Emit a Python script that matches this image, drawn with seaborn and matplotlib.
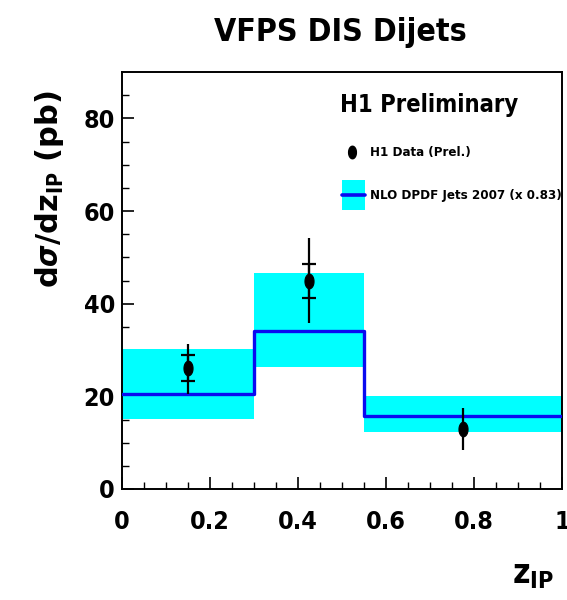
import numpy as np
import pandas as pd
import matplotlib
matplotlib.use("Agg")
import matplotlib.pyplot as plt
import seaborn as sns
from matplotlib.path import Path

# theory (NLO DPDF Jets 2007 x 0.83), histogram bins
bin_edges = [0.0, 0.3, 0.55, 1.0]
nlo_val = [20.4, 34.1, 15.8]
nlo_lo = [15.1, 26.4, 12.4]
nlo_hi = [30.3, 46.7, 20.1]

# H1 data points
zp = [0.15, 0.425, 0.775]
xs = [26.2, 44.9, 12.9]
stat_lo = [23.3, 41.3]
stat_hi = [28.9, 48.5]
tot_lo = [20.6, 35.9, 8.4]
tot_hi = [31.4, 54.1, 17.5]

sns.set_style("ticks")
plt.rcParams['font.family'] = ['DejaVu Sans']
plt.rcParams['font.stretch'] = 'condensed'
plt.rcParams['font.weight'] = 'bold'
plt.rcParams['mathtext.fontset'] = 'dejavusans'
for k in ['text.color', 'axes.labelcolor', 'xtick.color', 'ytick.color', 'axes.edgecolor']:
    plt.rcParams[k] = 'black'

fig = plt.figure(figsize=(5.67, 6.0), dpi=100)
ax = fig.add_axes([0.2152, 0.185, 0.776, 0.695])

cyan = "#00ffff"
blue = "#0a0af0"

# bands
edges = np.array(bin_edges)
ax.fill_between(edges, nlo_lo + [nlo_lo[-1]], nlo_hi + [nlo_hi[-1]],
                step="post", color=cyan, lw=0, zorder=1)

# step line
step_df = pd.DataFrame({"z": bin_edges, "v": nlo_val + [nlo_val[-1]]})
sns.lineplot(data=step_df, x="z", y="v", drawstyle="steps-post", color=blue,
             lw=2.4, estimator=None, sort=False, ax=ax, zorder=3)

# data: outer (total) error, inner (stat) caps
xs_a = np.array(xs)
ax.errorbar(zp, xs, yerr=[xs_a - np.array(tot_lo), np.array(tot_hi) - xs_a],
            fmt="none", ecolor="black", elinewidth=1.6, capsize=0, zorder=4)
ax.errorbar(zp[:2], xs[:2], yerr=[xs_a[:2] - np.array(stat_lo), np.array(stat_hi) - xs_a[:2]],
            fmt="none", ecolor="black", elinewidth=1.6, capsize=5, capthick=1.6, zorder=4)

t = np.linspace(0, 2 * np.pi, 60)
ell = Path(np.column_stack([0.62 * np.cos(t), np.sin(t)]))
pts = pd.DataFrame({"z": zp, "xs": xs})
sns.scatterplot(data=pts, x="z", y="xs", marker=ell, s=110, color="black",
                edgecolor="black", ax=ax, zorder=5)

ax.set_xlim(0, 1)
ax.set_ylim(0, 90)
ax.set_xticks([0, 0.2, 0.4, 0.6, 0.8, 1.0])
ax.set_xticklabels(["0", "0.2", "0.4", "0.6", "0.8", "1"])
ax.set_xticks(np.arange(0, 1.001, 0.05), minor=True)
ax.set_yticks([0, 20, 40, 60, 80])
ax.set_yticks(np.arange(0, 90, 5), minor=True)
ax.tick_params(axis="both", which="major", direction="in", length=8.6, width=1.2,
               labelsize=18)
ax.tick_params(axis="both", which="minor", direction="in", length=5, width=1.0)
ax.tick_params(axis="x", which="major", pad=15)
ax.tick_params(axis="y", which="major", pad=5)
for s in ax.spines.values():
    s.set_linewidth(1.4)
    s.set_color("black")
ax.set_xlabel("")
ax.set_ylabel("")

fig.text(0.6, 0.945, "VFPS DIS Dijets", ha="center", va="center", fontsize=23,
         fontweight="bold")
fig.text(0.905, 0.994, "18", ha="center", va="bottom", fontsize=12, fontweight="bold")
fig.text(0.088, 0.685, r"d$\sigma$/dz$_{\rm IP}$ (pb)", rotation=90, ha="center",
         va="center", fontsize=22, fontweight="bold", fontstretch="normal")
fig.text(0.94, 0.042, r"z$_{\rm IP}$", ha="center", va="center", fontsize=24,
         fontweight="bold")

# legend
ax.text(0.698, 0.921, "H1 Preliminary", transform=ax.transAxes, ha="center",
        va="center", fontsize=17, fontweight="bold")
ax.plot([0.523], [0.808], transform=ax.transAxes, marker=ell, ms=9, color="black",
        ls="none", clip_on=False)
ax.text(0.564, 0.808, "H1 Data (Prel.)", transform=ax.transAxes, ha="left",
        va="center", fontsize=9.5, fontweight="bold")
ax.add_patch(plt.Rectangle((0.5, 0.669), 0.052, 0.072, transform=ax.transAxes,
                           color=cyan, lw=0, zorder=6))
ax.plot([0.5, 0.552], [0.705, 0.705], transform=ax.transAxes, color=blue, lw=2.6,
        zorder=7)
ax.text(0.564, 0.705, "NLO DPDF Jets 2007 (x 0.83)", transform=ax.transAxes,
        ha="left", va="center", fontsize=9.5, fontweight="bold")

fig.savefig("out.png", dpi=100)
